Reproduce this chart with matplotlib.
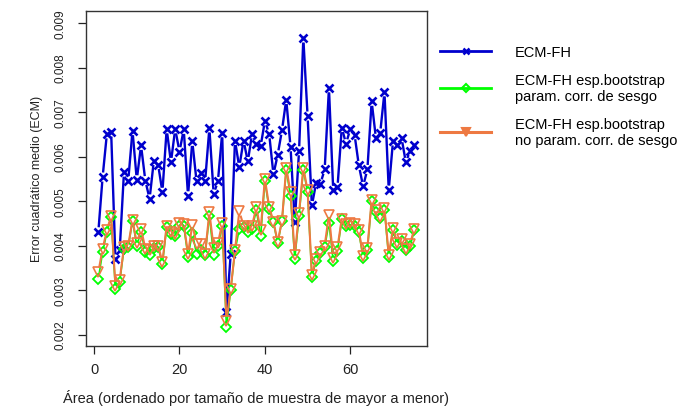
import matplotlib
matplotlib.use('Agg')
import matplotlib.pyplot as plt
from matplotlib.collections import LineCollection
from matplotlib.lines import Line2D
import numpy as np

# area index (ordered by sample size, largest first)
area = list(range(1, 76))

# ECM-FH
ecm_fh = [0.00431, 0.00554, 0.00651, 0.00655, 0.00370, 0.00389, 0.00565, 0.00546,
          0.00658, 0.00548, 0.00625, 0.00546, 0.00505, 0.00591, 0.00582, 0.00520,
          0.00662, 0.00587, 0.00662, 0.00611, 0.00661, 0.00512, 0.00634, 0.00544,
          0.00563, 0.00544, 0.00664, 0.00516, 0.00544, 0.00653, 0.00250, 0.00381,
          0.00636, 0.00576, 0.00636, 0.00589, 0.00651, 0.00628, 0.00623, 0.00680,
          0.00651, 0.00560, 0.00604, 0.00659, 0.00728, 0.00622, 0.00453, 0.00613,
          0.00866, 0.00691, 0.00490, 0.00541, 0.00539, 0.00571, 0.00754, 0.00524,
          0.00531, 0.00665, 0.00629, 0.00662, 0.00649, 0.00580, 0.00533, 0.00571,
          0.00724, 0.00641, 0.00653, 0.00745, 0.00525, 0.00635, 0.00626, 0.00642,
          0.00587, 0.00613, 0.00625]

# ECM-FH esp. bootstrap parametrico corregido de sesgo
ecm_param = [0.00325, 0.00385, 0.00430, 0.00464, 0.00303, 0.00318, 0.00393, 0.00396,
             0.00456, 0.00400, 0.00431, 0.00385, 0.00378, 0.00395, 0.00396, 0.00359,
             0.00441, 0.00426, 0.00422, 0.00444, 0.00444, 0.00375, 0.00428, 0.00381,
             0.00389, 0.00378, 0.00467, 0.00378, 0.00398, 0.00444, 0.00217, 0.00301,
             0.00388, 0.00437, 0.00441, 0.00431, 0.00438, 0.00480, 0.00421, 0.00544,
             0.00483, 0.00452, 0.00405, 0.00456, 0.00570, 0.00511, 0.00370, 0.00467,
             0.00570, 0.00520, 0.00330, 0.00366, 0.00383, 0.00396, 0.00451, 0.00365,
             0.00388, 0.00459, 0.00445, 0.00446, 0.00445, 0.00430, 0.00373, 0.00390,
             0.00499, 0.00475, 0.00461, 0.00480, 0.00374, 0.00434, 0.00401, 0.00411,
             0.00389, 0.00399, 0.00434]

# ECM-FH esp. bootstrap no parametrico corregido de sesgo
ecm_noparam = [0.00340, 0.00393, 0.00434, 0.00467, 0.00310, 0.00323, 0.00396, 0.00400,
               0.00458, 0.00405, 0.00438, 0.00393, 0.00389, 0.00400, 0.00400, 0.00363,
               0.00445, 0.00430, 0.00425, 0.00450, 0.00449, 0.00381, 0.00447, 0.00404,
               0.00404, 0.00382, 0.00475, 0.00395, 0.00405, 0.00450, 0.00231, 0.00303,
               0.00389, 0.00477, 0.00445, 0.00440, 0.00445, 0.00486, 0.00434, 0.00550,
               0.00487, 0.00454, 0.00408, 0.00456, 0.00575, 0.00520, 0.00378, 0.00474,
               0.00575, 0.00524, 0.00334, 0.00370, 0.00386, 0.00400, 0.00469, 0.00372,
               0.00396, 0.00460, 0.00449, 0.00451, 0.00449, 0.00434, 0.00376, 0.00394,
               0.00503, 0.00479, 0.00464, 0.00484, 0.00379, 0.00439, 0.00406, 0.00415,
               0.00393, 0.00404, 0.00438]

labels = ['ECM-FH',
          'ECM-FH esp.bootstrap\nparam. corr. de sesgo',
          'ECM-FH esp.bootstrap\nno param. corr. de sesgo']
colors = ['#0000CD', '#00FF00', '#EE7942']
xticks = [0, 20, 40, 60]
yticks = [0.002, 0.003, 0.004, 0.005, 0.006, 0.007, 0.008, 0.009]

plt.rcParams['font.family'] = ['Liberation Sans', 'DejaVu Sans']

W, H = 686, 410


def gapped_line(ax, x, y, gap, **kw):
    # like R type="b": the segments stop short of the points
    to_px = ax.transData
    pts = to_px.transform(np.column_stack([x, y]))
    segs = []
    for p0, p1 in zip(pts[:-1], pts[1:]):
        d = p1 - p0
        n = np.hypot(d[0], d[1])
        if n <= 2 * gap:
            continue
        u = d / n
        segs.append(to_px.inverted().transform(np.array([p0 + u * gap, p1 - u * gap])))
    ax.add_collection(LineCollection(segs, **kw))


fig = plt.figure(figsize=(W / 100, H / 100), dpi=100)
ax = fig.add_axes([85.7 / W, 1 - 346.7 / H, (427 - 85.7) / W, (346.7 - 12) / H])
ax.set_xlim(-1.96, 77.96)
ax.set_ylim(0.00175, 0.00927)

# blue
gapped_line(ax, area, ecm_fh, 4.5, colors=colors[0], linewidths=1.7, zorder=2)
ax.plot(area, ecm_fh, ls='none', marker='x', ms=5.5, mew=1.9, color=colors[0], zorder=2)
# green
gapped_line(ax, area, ecm_param, 4.5, colors=colors[1], linewidths=1.2, zorder=3)
ax.plot(area, ecm_param, ls='none', marker='D', ms=5, mew=1.3, mfc='none',
        color=colors[1], zorder=3)
# orange
gapped_line(ax, area, ecm_noparam, 4.5, colors=colors[2], linewidths=1.5, zorder=4)
ax.plot(area, ecm_noparam, ls='none', marker='v', ms=6.8, mew=1.2, mfc='none',
        color=colors[2], zorder=4)

ax.set_xticks(xticks)
ax.set_xticklabels([str(v) for v in xticks], fontsize=10.5)
ax.set_yticks(yticks)
ax.set_yticklabels(['%.3f' % v for v in yticks], fontsize=8.5, rotation=90, va='center')
ax.tick_params(axis='x', direction='out', length=5.5, width=0.9, pad=6.5, colors='#222222')
ax.tick_params(axis='y', direction='out', length=6, width=0.9, pad=8, colors='#222222')
for s in ax.spines.values():
    s.set_linewidth(1.0)
    s.set_color('#333333')

ax.set_xlabel('Área (ordenado por tamaño de muestra de mayor a menor)', fontsize=10.5,
              labelpad=9, color='#222222')
ax.set_ylabel('Error cuadrático medio (ECM)', fontsize=9, labelpad=8, color='#222222')

handles = [Line2D([], [], color=colors[0], lw=2, marker='x', ms=5, mew=1.8),
           Line2D([], [], color=colors[1], lw=2, marker='D', ms=4.5, mew=1.5, mfc='none'),
           Line2D([], [], color=colors[2], lw=2.2, marker='v', ms=6, mew=1.5)]
fig.legend(handles, labels, loc='upper left', bbox_to_anchor=(440 / W, 1 - 46 / H),
           frameon=False, fontsize=10.5, handlelength=3.5, handletextpad=1.65,
           labelspacing=0.95, borderpad=0, borderaxespad=0)

fig.savefig('out.png', dpi=100)
